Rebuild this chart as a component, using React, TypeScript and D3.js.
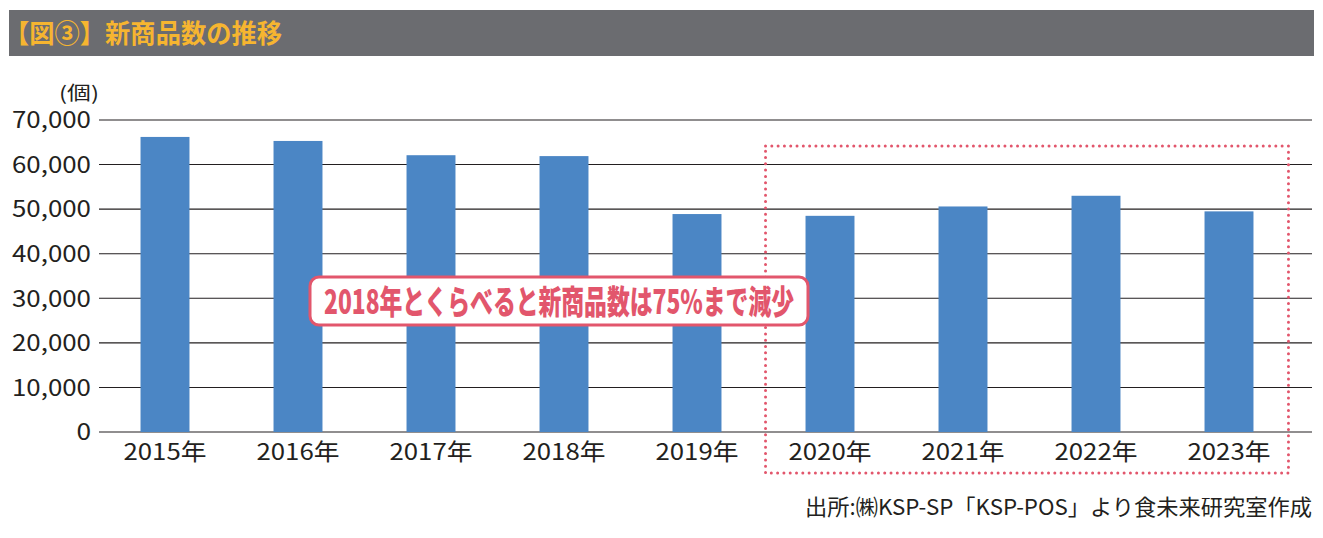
import React from 'react';
import * as d3 from 'd3';

const years = ['2015年', '2016年', '2017年', '2018年', '2019年', '2020年', '2021年', '2022年', '2023年'];
const counts = [66200, 65300, 62100, 61900, 48900, 48500, 50600, 53000, 49500];
const yTicks = [0, 10000, 20000, 30000, 40000, 50000, 60000, 70000];

const title = '【図③】新商品数の推移';
const unitLabel = '(個)';
const callout = '2018年とくらべると新商品数は75%まで減少';
const source = '出所:㈱KSP-SP「KSP-POS」より食未来研究室作成';

const FONT = '"Noto Sans CJK JP", "Noto Sans", sans-serif';
const PINK = '#e2566c';
const INK = '#231f20';

const App = () => {
  const W = 1323;
  const H = 538;

  // plot area
  const x = d3.scaleBand<string>()
    .domain(years)
    .range([98.5, 1295.5])
    .paddingInner(0.632)
    .paddingOuter(0.316);

  const y = d3.scaleLinear()
    .domain([0, 70000])
    .range([432, 120]);

  const fmt = d3.format(',');
  // the reference font sets digits wide, so stretch tick labels a bit
  const tickWidth = (s: string) => s.split('').reduce((w, c) => w + (c === ',' ? 6 : 14.6), 0);

  // dotted highlight box around 2020-2023
  const boxL = (x('2020年') ?? 0) - 40;
  const boxR = (x('2023年') ?? 0) + x.bandwidth() + 35;

  return (
    <svg width={W} height={H} style={{ position: 'absolute', left: 0, top: 0, background: '#fff' }}>
      {/* title bar */}
      <rect x={9} y={10} width={1305} height={46} fill="#6b6c70" />
      <text x={4} y={43} fontFamily={FONT} fontWeight="bold" fontSize={26} fill="#f6b530"
        textLength={278} lengthAdjust="spacingAndGlyphs">{title}</text>

      {/* unit */}
      <text x={99} y={100} textAnchor="end" fontFamily={FONT} fontSize={19} fill={INK}
        textLength={40} lengthAdjust="spacingAndGlyphs">{unitLabel}</text>

      {/* gridlines + y labels */}
      {yTicks.map(t => {
        const s = fmt(t);
        return (
          <g key={t}>
            <line x1={99} x2={1312} y1={y(t)} y2={y(t)} stroke={INK} strokeWidth={1.1} />
            <text x={91} y={y(t)} dy="0.36em" textAnchor="end" fontFamily={FONT} fontSize={23} fill={INK}
              textLength={tickWidth(s)} lengthAdjust="spacingAndGlyphs">{s}</text>
          </g>
        );
      })}

      {/* bars */}
      {years.map((yr, i) => (
        <rect key={yr} x={x(yr)} y={y(counts[i])} width={x.bandwidth()} height={y(0) - y(counts[i])} fill="#4b86c5" />
      ))}

      {/* x labels */}
      {years.map(yr => (
        <text key={yr} x={(x(yr) ?? 0) + x.bandwidth() / 2} y={460} textAnchor="middle" fontFamily={FONT} fontSize={23} fill={INK}
          textLength={83} lengthAdjust="spacingAndGlyphs">{yr}</text>
      ))}

      {/* highlight box */}
      <rect x={boxL} y={146} width={boxR - boxL} height={327} fill="none" stroke={PINK}
        strokeWidth={3} strokeDasharray="0 6.3" strokeLinecap="round" />

      {/* callout */}
      <rect x={310} y={277} width={498} height={48} rx={9} fill="#fff" stroke={PINK} strokeWidth={3} />
      <text x={324} y={314} fontFamily={FONT} fontWeight={900} fontSize={33} fill={PINK}
        textLength={470} lengthAdjust="spacingAndGlyphs">{callout}</text>

      {/* source */}
      <text x={1312} y={515} textAnchor="end" fontFamily={FONT} fontWeight={400} fontSize={22} fill={INK}
        textLength={507} lengthAdjust="spacingAndGlyphs">{source}</text>
    </svg>
  );
};

export default App;
